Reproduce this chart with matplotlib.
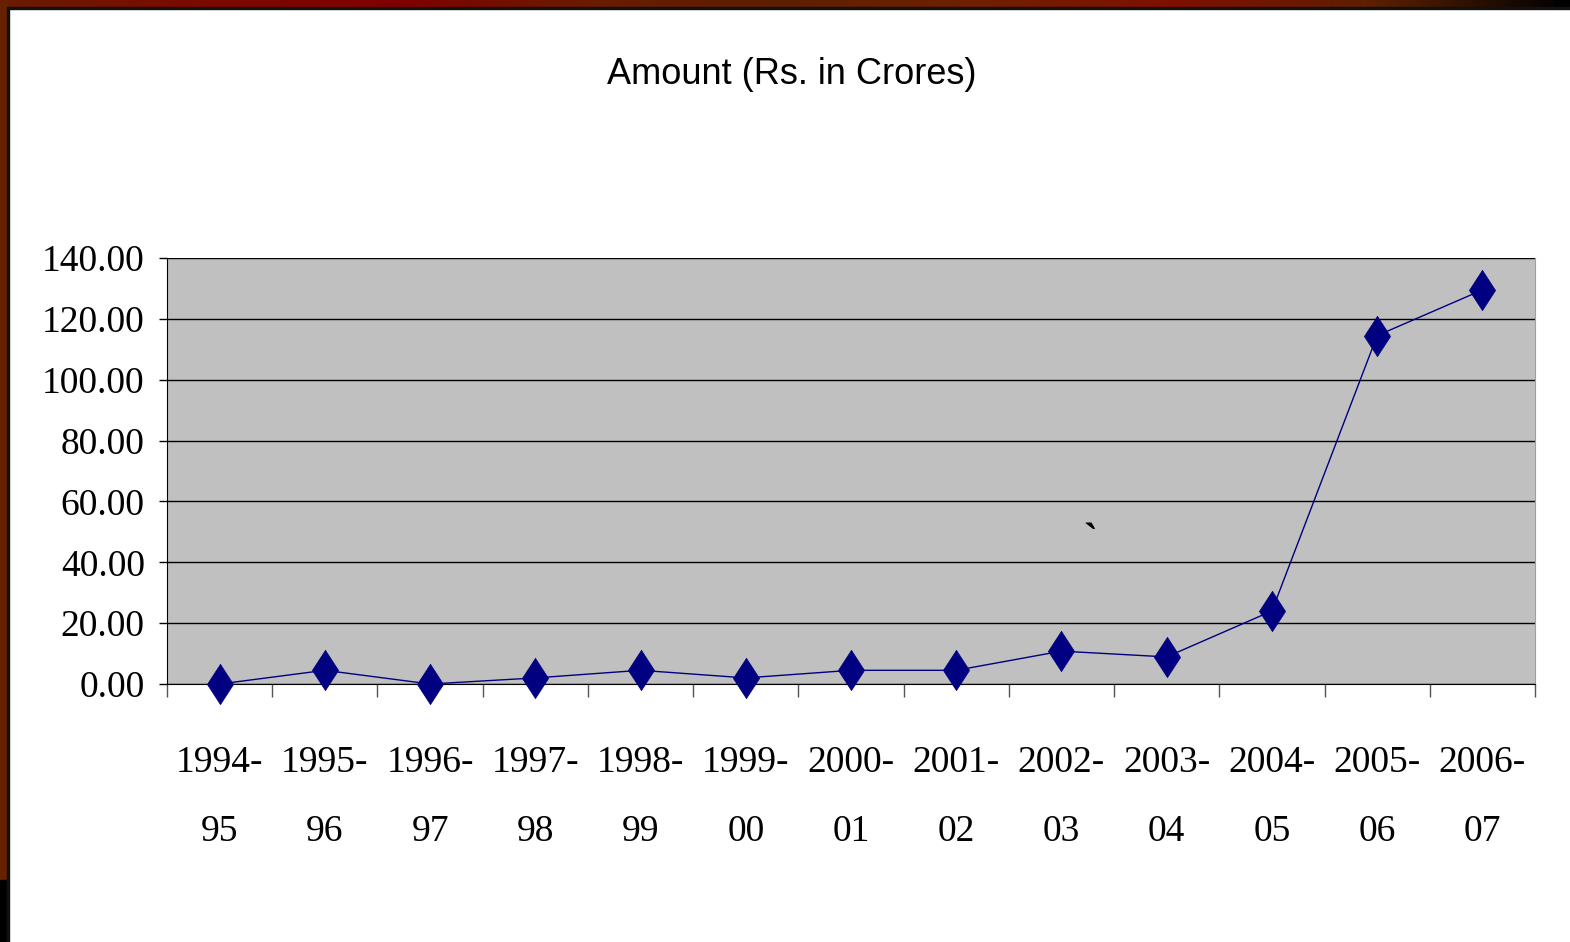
import numpy as np
import matplotlib.pyplot as plt
from matplotlib.colors import LinearSegmentedColormap
from matplotlib.patches import Rectangle

years = ['1994-\n95', '1995-\n96', '1996-\n97', '1997-\n98', '1998-\n99', '1999-\n00',
         '2000-\n01', '2001-\n02', '2002-\n03', '2003-\n04', '2004-\n05', '2005-\n06', '2006-\n07']
amount = [0.0, 4.5, 0.0, 2.0, 4.5, 2.0, 4.5, 4.5, 10.8, 8.9, 24.0, 114.5, 129.5]
yticks = [0, 20, 40, 60, 80, 100, 120, 140]

W, H = 1570, 942
fig = plt.figure(figsize=(W / 100, H / 100), dpi=100)
fig.patch.set_facecolor('white')

# frame of the slide: brown stripe on the left, gradient stripe on top
fig.patches.append(Rectangle((0, 0), 7 / W, 1, transform=fig.transFigure, color='#662200', zorder=0))
fig.patches.append(Rectangle((0, 0), 7 / W, 62 / H, transform=fig.transFigure, color='black', zorder=1))
fig.patches.append(Rectangle((7 / W, 0), 1.5 / W, 1 - 7 / H, transform=fig.transFigure, color='#111111', zorder=1))
fig.patches.append(Rectangle((7 / W, 1 - 8.5 / H), 1 - 7 / W, 1.5 / H, transform=fig.transFigure,
                             color='#111111', zorder=1))
top = fig.add_axes([0, 1 - 7 / H, 1, 7 / H])
cmap = LinearSegmentedColormap.from_list('strip', ['#6a1c00', '#7c0a00', '#800000', '#6a1c00', '#5e2000',
                                                   '#702000', '#801000', '#5e2000', '#000000'])
top.imshow(np.linspace(0, 1, 400)[None, :], aspect='auto', cmap=cmap, extent=(0, 1, 0, 1))
top.axis('off')

ax = fig.add_axes([167 / W, 1 - 684 / H, (1535 - 167) / W, (684 - 258) / H])
ax.set_facecolor('#c0c0c0')
x = np.arange(len(years))
diamond = [(0, 1), (0.65, 0), (0, -1), (-0.65, 0), (0, 1)]
ax.plot(x, amount, color='#000080', lw=1, marker=diamond, ms=29, mec='#000080', mfc='#000080',
        mew=0.5, zorder=3, clip_on=False)

ax.set_xlim(-0.5, len(years) - 0.5)
ax.set_ylim(0, 140)
ax.set_yticks(yticks)
ax.set_yticklabels(['%.2f' % v for v in yticks], fontfamily='Liberation Serif', fontsize=27)
ax.tick_params(axis='y', length=6, width=1, pad=10, color='black')
ax.yaxis.grid(True, color='black', lw=1)
ax.set_axisbelow(True)

ax.set_xticks(x)
ax.set_xticklabels(years, fontfamily='Liberation Serif', fontsize=27, linespacing=2.33)
ax.set_xticks(np.arange(-0.5, len(years)), minor=True)
ax.tick_params(axis='x', which='major', length=0, pad=44)
ax.tick_params(axis='x', which='minor', length=9, width=1, color='#555555')

ax.spines['top'].set_visible(False)
ax.spines['right'].set_color('#a0a0a0')
ax.spines['left'].set_color('black')
ax.spines['bottom'].set_color('black')

fig.text(792 / W, 1 - 75 / H, 'Amount (Rs. in Crores)', ha='center', va='center', fontsize=26,
         family=['Liberation Sans Narrow', 'Liberation Sans'])
fig.text(1090 / W, 1 - 542 / H, '`', ha='center', va='center', fontsize=30,
         fontweight='bold', fontfamily='Liberation Serif')

fig.savefig('out.png', dpi=100)
